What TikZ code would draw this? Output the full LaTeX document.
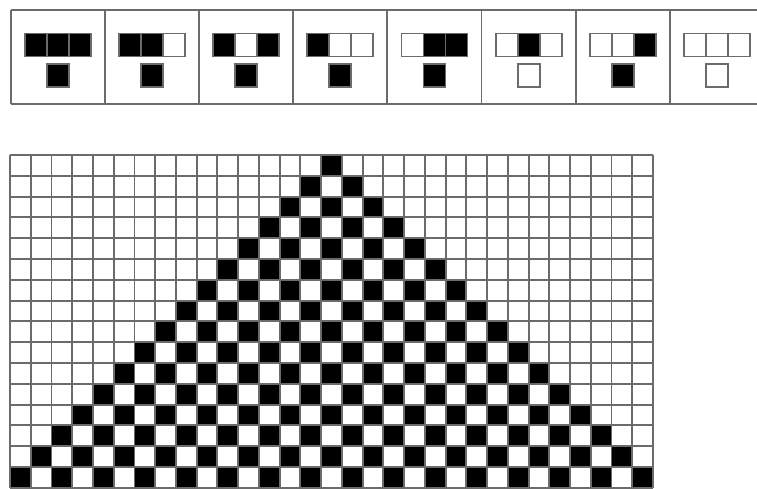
\documentclass[tikz,border=0pt]{standalone}
\begin{document}
\begin{tikzpicture}[x=1pt,y=-1pt,
  gridline/.style={draw=black!58,line width=1.9pt},
  cellbox/.style={draw=black!58,line width=1.9pt}]
\useasboundingbox (0,0) rectangle (757,489);
\fill[white] (0,0) rectangle (757,489);
\clip (0,0) rectangle (757,489);
% ---- rule panels ----
\foreach \a/\b/\c/\o [count=\i from 0] in {1/1/1/1,1/1/0/1,1/0/1/1,1/0/0/1,0/1/1/1,0/1/0/0,0/0/1/1,0/0/0/0}{
  \pgfmathsetmacro\xl{11+94.1*\i}
  \pgfmathsetmacro\cx{\xl+47.05}
  \draw[gridline] (\xl,10) -- (\xl,104);
  \draw[cellbox,fill=black!\a00] (\cx-33,33.5) rectangle (\cx-11,56.5);
  \draw[cellbox,fill=black!\b00] (\cx-11,33.5) rectangle (\cx+11,56.5);
  \draw[cellbox,fill=black!\c00] (\cx+11,33.5) rectangle (\cx+33,56.5);
  \draw[cellbox,fill=black!\o00] (\cx-11,64) rectangle (\cx+11,87);
}
\draw[gridline] (11,10) -- (770,10);
\draw[gridline] (11,104) -- (770,104);
% ---- evolution grid ----
\foreach \r in {0,...,15}{
  \foreach \c in {0,...,30}{
    \pgfmathtruncatemacro\d{abs(\c-15)}
    \pgfmathtruncatemacro\p{mod(\c-15+\r+100,2)}
    \ifnum\d>\r\else\ifnum\p=0
      \fill[black] (10+\c*20.742,155+\r*20.8) rectangle +(20.742,20.8);
    \fi\fi
  }
}
\foreach \c in {0,...,31}{
  \draw[gridline] (10+\c*20.742,155) -- (10+\c*20.742,487.8);
}
\foreach \r in {0,...,16}{
  \draw[gridline] (10,155+\r*20.8) -- (653,155+\r*20.8);
}
\end{tikzpicture}
\end{document}
